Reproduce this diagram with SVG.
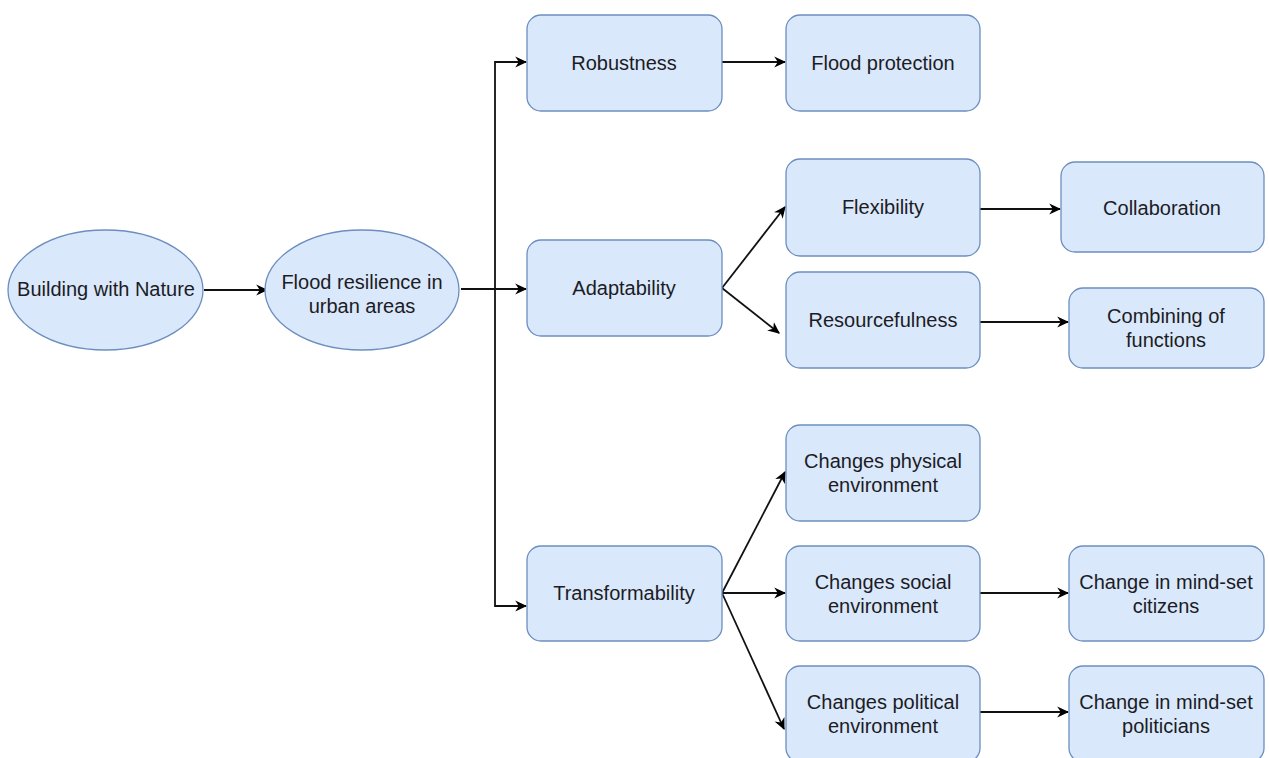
<svg xmlns="http://www.w3.org/2000/svg" width="1269" height="758" viewBox="0 0 1269 758">
<defs>
<style>
.n{fill:#dae8fc;stroke:#6c8ebf;stroke-width:1.3}
.t{font-family:"Liberation Sans",Arial,sans-serif;font-size:20px;fill:#1c1c24;text-anchor:middle;dominant-baseline:central}
.e{fill:none;stroke:#111;stroke-width:1.8}
</style>
<marker id="a" viewBox="0 0 10 10" refX="9" refY="5" markerWidth="12" markerHeight="12" markerUnits="userSpaceOnUse" orient="auto">
<path d="M0,0.5 L10,5 L0,9.5 L3,5 Z" fill="#000"/>
</marker>
</defs>
<rect width="1269" height="758" fill="#fff"/>
<g id="connectors">
<line class="e" x1="204" y1="290" x2="267" y2="290" marker-end="url(#a)"/>
<line class="e" x1="461" y1="289" x2="526" y2="289" marker-end="url(#a)"/>
<polyline class="e" points="495,289 495,62 526,62" marker-end="url(#a)"/>
<polyline class="e" points="495,289 495,606 526,606" marker-end="url(#a)"/>
<line class="e" x1="722" y1="62" x2="785" y2="62" marker-end="url(#a)"/>
<line class="e" x1="722" y1="288" x2="785" y2="207" marker-end="url(#a)"/>
<line class="e" x1="722" y1="288" x2="779" y2="333" marker-end="url(#a)"/>
<line class="e" x1="980" y1="209" x2="1060" y2="209" marker-end="url(#a)"/>
<line class="e" x1="980" y1="322" x2="1068" y2="322" marker-end="url(#a)"/>
<line class="e" x1="722" y1="593" x2="785" y2="472" marker-end="url(#a)"/>
<line class="e" x1="722" y1="593" x2="785" y2="593" marker-end="url(#a)"/>
<line class="e" x1="722" y1="593" x2="784" y2="729" marker-end="url(#a)"/>
<line class="e" x1="980" y1="593" x2="1068" y2="593" marker-end="url(#a)"/>
<line class="e" x1="980" y1="712" x2="1068" y2="712" marker-end="url(#a)"/>
</g>
<g id="building">
<ellipse class="n" cx="105.5" cy="290" rx="97.5" ry="60"/>
<text class="t" x="106" y="289">Building with Nature</text>
</g>
<g id="resilience">
<ellipse class="n" cx="362" cy="290" rx="97" ry="60"/>
<text class="t" x="362" y="282">Flood resilience in</text>
<text class="t" x="362" y="306">urban areas</text>
</g>
<g id="robustness">
<rect class="n" x="527" y="15" width="195" height="96" rx="14"/>
<text class="t" x="624" y="63">Robustness</text>
</g>
<g id="floodprotection">
<rect class="n" x="786" y="15" width="194" height="96" rx="14"/>
<text class="t" x="883" y="63">Flood protection</text>
</g>
<g id="adaptability">
<rect class="n" x="527" y="240" width="195" height="96" rx="14"/>
<text class="t" x="624" y="288">Adaptability</text>
</g>
<g id="flexibility">
<rect class="n" x="786" y="159" width="194" height="97" rx="14"/>
<text class="t" x="883" y="207">Flexibility</text>
</g>
<g id="collaboration">
<rect class="n" x="1061" y="162" width="203" height="90" rx="14"/>
<text class="t" x="1162" y="208">Collaboration</text>
</g>
<g id="resourcefulness">
<rect class="n" x="786" y="272" width="194" height="96" rx="14"/>
<text class="t" x="883" y="320">Resourcefulness</text>
</g>
<g id="combining">
<rect class="n" x="1069" y="288" width="195" height="80" rx="14"/>
<text class="t" x="1166" y="316">Combining of</text>
<text class="t" x="1166" y="340">functions</text>
</g>
<g id="transformability">
<rect class="n" x="527" y="546" width="195" height="95" rx="14"/>
<text class="t" x="624" y="593">Transformability</text>
</g>
<g id="physical">
<rect class="n" x="786" y="425" width="194" height="96" rx="14"/>
<text class="t" x="883" y="461">Changes physical</text>
<text class="t" x="883" y="485">environment</text>
</g>
<g id="social">
<rect class="n" x="786" y="546" width="194" height="95" rx="14"/>
<text class="t" x="883" y="582">Changes social</text>
<text class="t" x="883" y="606">environment</text>
</g>
<g id="citizens">
<rect class="n" x="1069" y="546" width="195" height="95" rx="14"/>
<text class="t" x="1166" y="582">Change in mind-set</text>
<text class="t" x="1166" y="606">citizens</text>
</g>
<g id="political">
<rect class="n" x="786" y="666" width="194" height="96" rx="14"/>
<text class="t" x="883" y="702">Changes political</text>
<text class="t" x="883" y="726">environment</text>
</g>
<g id="politicians">
<rect class="n" x="1069" y="666" width="195" height="96" rx="14"/>
<text class="t" x="1166" y="702">Change in mind-set</text>
<text class="t" x="1166" y="726">politicians</text>
</g>
</svg>
